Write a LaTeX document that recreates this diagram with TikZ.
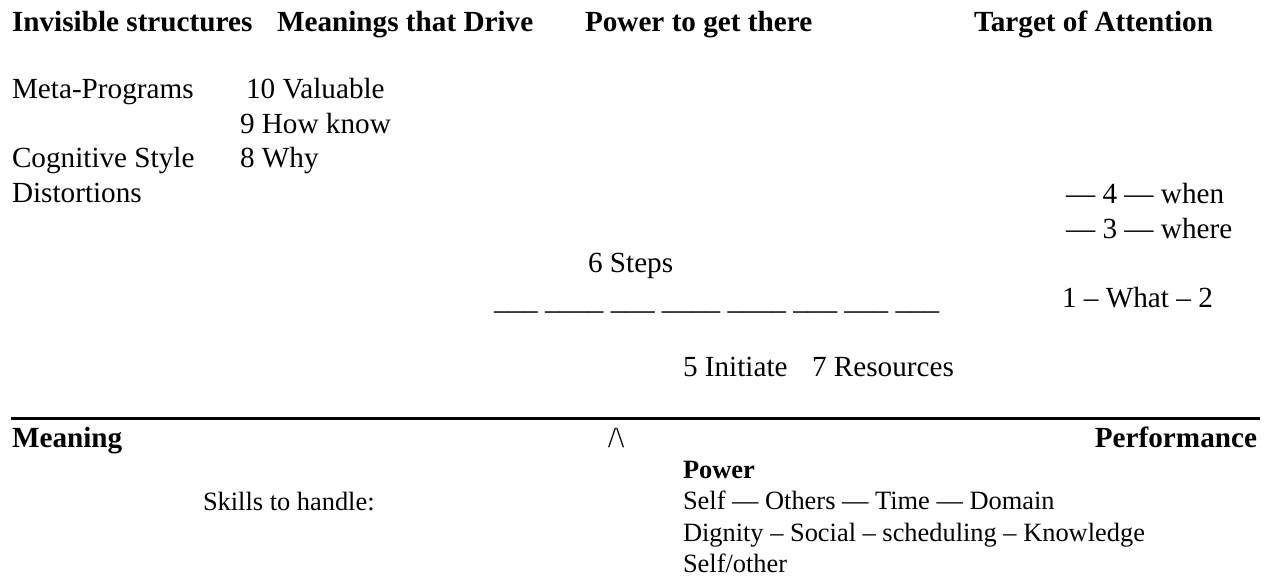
\documentclass[tikz,border=0pt]{standalone}
\usepackage{fontspec}
\setmainfont{Liberation Serif}
\begin{document}
\begin{tikzpicture}[x=0.5pt,y=-0.5pt,
  txt/.style={anchor=base west, inner sep=0pt, outer sep=0pt},
  big/.style={txt, font=\fontsize{14.6pt}{17pt}\selectfont},
  bigb/.style={txt, font=\fontsize{14.6pt}{17pt}\selectfont\bfseries},
  small/.style={txt, font=\fontsize{13.2pt}{16pt}\selectfont},
  smallb/.style={txt, font=\fontsize{13.2pt}{16pt}\selectfont\bfseries},
  rule/.style={line width=1.65pt}]
\useasboundingbox (0,0) rectangle (1267,578);

% column headings
\node[bigb] (hInv)  at (12,32)  {Invisible structures};
\node[bigb] (hMean) at (277,32) {Meanings that Drive};
\node[bigb] (hPow)  at (585,32) {Power to get there};
\node[bigb] (hTgt)  at (974,32) {Target of Attention};

% left columns
\node[big] (meta)  at (12,98)   {Meta-Programs};
\node[big] (val)   at (246,98)  {10 Valuable};
\node[big] (how)   at (240,133) {9 How know};
\node[big] (cog)   at (12,167)  {Cognitive Style};
\node[big] (why)   at (240,167) {8 Why};
\node[big] (dist)  at (12,202)  {Distortions};

% target of attention
\node[big] (when)  at (1066,203) {— 4 — when};
\node[big] (where) at (1066,238) {— 3 — where};
\node[big] (what)  at (1062,307) {1 – What – 2};

% steps
\node[big] (steps) at (588,272) {6 Steps};
\node[big] (blanks) at (494,309) {\_\_\_ \_\_\_\_ \_\_\_ \_\_\_\_ \_\_\_\_ \_\_\_ \_\_\_ \_\_\_};
\node[big] (init)  at (683,376) {5 Initiate};
\node[big] (res)   at (812,376) {7 Resources};

% separating rule
\coordinate (ruleL) at (11,418.6);
\coordinate (ruleR) at (1260,418.6);
\draw[rule] (ruleL) -- (ruleR);

% lower section
\node[bigb] (meaning) at (12,447)  {Meaning};
\node[big]  (peak)    at (608,447) {/\textbackslash};
\node[bigb, anchor=base east] (perf) at (1257,447) {Performance};
\node[smallb] (power) at (683,478) {Power};
\node[small] (skills) at (203,510) {Skills to handle:};
\node[small] (sotd)   at (683,509) {Self — Others — Time — Domain};
\node[small] (dssk)   at (683,541) {Dignity – Social – scheduling – Knowledge};
\node[small] (selfo)  at (683,572) {Self/other};
\end{tikzpicture}
\end{document}
